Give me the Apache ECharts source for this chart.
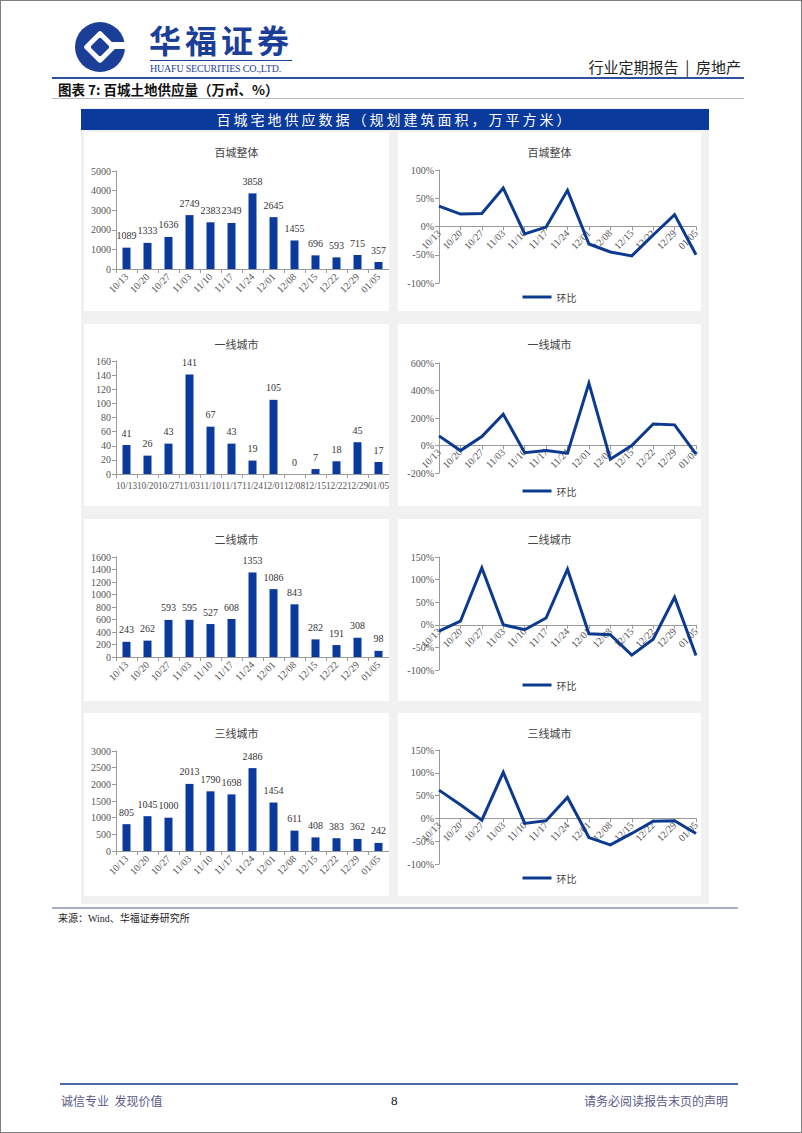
<!DOCTYPE html>
<html>
<head>
<meta charset="utf-8">
<script src="https://cdn.jsdelivr.net/npm/echarts/dist/echarts.min.js"></script>
<style>
  html, body { margin: 0; padding: 0; background: #fff; }
  #page { position: relative; width: 802px; height: 1133px; box-sizing: border-box; border: 1px solid #7f7f7f; overflow: hidden; font-family: 'Noto Sans CJK SC', sans-serif; }
  .abs { position: absolute; }
  .panel { position: absolute; background: #fff; overflow: hidden; }
  .chart { position: absolute; left: 0; top: 0; width: 100%; height: 100%; }
</style>
</head>
<body>
<div id="page">
  <!-- logo -->
  <svg class="abs" style="left:68px;top:19px" width="62" height="54" viewBox="0 0 62 54">
    <circle cx="31" cy="27" r="25" fill="#1b3f98"/>
    <rect x="19" y="15" width="24" height="24" rx="3" transform="rotate(45 31 27)" fill="#fff"/>
    <rect x="24" y="20" width="14" height="14" rx="2" transform="rotate(45 31 27)" fill="#1b3f98"/>
    <rect x="41" y="22" width="22" height="7" fill="#fff"/>
  </svg>
  <div class="abs" style="left:148px;top:17px;font-size:32px;font-weight:bold;color:#1b3f98;letter-spacing:4px;line-height:42px;">华福证券</div>
  <div class="abs" style="left:149px;top:59px;width:142px;height:1px;background:#1b3f98;"></div>
  <div class="abs" style="left:149px;top:61px;font-family:'Liberation Serif',serif;font-size:10px;color:#1b3f98;line-height:14px;letter-spacing:-0.2px;">HUAFU SECURITIES CO.,LTD.</div>
  <div class="abs" style="right:60px;top:56px;font-size:15px;color:#222;line-height:20px;">行业定期报告&nbsp;&nbsp;|&nbsp;&nbsp;房地产</div>
  <div class="abs" style="left:51px;top:76px;width:692px;height:2px;background:#2f4f9f;"></div>
  <div class="abs" style="left:57px;top:79px;font-size:13.5px;font-weight:bold;color:#111;line-height:18px;">图表 7:&nbsp;百城土地供应量（万㎡、%）</div>
  <div class="abs" style="left:51px;top:97px;width:692px;height:1px;background:#b8bccb;"></div>

  <!-- frame -->
  <div class="abs" style="left:80px;top:107px;width:628px;height:796px;background:#f1f1f2;"></div>
  <div class="abs" style="left:80px;top:108px;width:628px;height:21px;background:#0a3a9c;color:#fff;font-size:14px;line-height:21px;text-align:center;letter-spacing:3px;">百城宅地供应数据（规划建筑面积，万平方米）</div>

  <div class="panel" style="left:83px;top:131px;width:305px;height:179px;"><div class="chart" id="c1"></div></div>
  <div class="panel" style="left:397px;top:131px;width:303px;height:179px;"><div class="chart" id="c2"></div></div>
  <div class="panel" style="left:83px;top:323px;width:305px;height:182px;"><div class="chart" id="c3"></div></div>
  <div class="panel" style="left:397px;top:323px;width:303px;height:182px;"><div class="chart" id="c4"></div></div>
  <div class="panel" style="left:83px;top:518px;width:305px;height:182px;"><div class="chart" id="c5"></div></div>
  <div class="panel" style="left:397px;top:518px;width:303px;height:182px;"><div class="chart" id="c6"></div></div>
  <div class="panel" style="left:83px;top:712px;width:305px;height:183px;"><div class="chart" id="c7"></div></div>
  <div class="panel" style="left:397px;top:712px;width:303px;height:183px;"><div class="chart" id="c8"></div></div>

  <div class="abs" style="left:51px;top:906px;width:686px;height:2px;background:#a9adc6;"></div>
  <div class="abs" style="left:57px;top:909px;font-size:10px;color:#222;line-height:16px;">来源：<span style="font-family:'Liberation Serif',serif;">Wind</span>、华福证券研究所</div>

  <div class="abs" style="left:59px;top:1082px;width:678px;height:2px;background:#4a6aa8;"></div>
  <div class="abs" style="left:60px;top:1091px;font-size:12px;color:#5a5a8a;line-height:18px;">诚信专业&nbsp;&nbsp;发现价值</div>
  <div class="abs" style="left:390px;top:1091px;font-size:13px;color:#111;line-height:18px;font-family:'Liberation Serif',serif;">8</div>
  <div class="abs" style="right:73px;top:1091px;font-size:12px;color:#5a5a8a;line-height:18px;">请务必阅读报告末页的声明</div>
</div>

<script>
// ---------- data ----------
const categories = ['10/13','10/20','10/27','11/03','11/10','11/17','11/24','12/01','12/08','12/15','12/22','12/29','01/05'];

const totalSupply = [1089, 1333, 1636, 2749, 2383, 2349, 3858, 2645, 1455, 696, 593, 715, 357];
const totalMoM    = [36, 22, 23, 68, -13, -1, 64, -31, -45, -52, -15, 21, -50];

const tier1Supply = [41, 26, 43, 141, 67, 43, 19, 105, 0, 7, 18, 45, 17];
const tier1MoM    = [70, -37, 65, 228, -52, -36, -56, 453, -100, 0, 157, 150, -62];

const tier2Supply = [243, 262, 593, 595, 527, 608, 1353, 1086, 843, 282, 191, 308, 98];
const tier2MoM    = [-14, 8, 126, 0, -11, 15, 123, -20, -22, -67, -32, 61, -68];

const tier3Supply = [805, 1045, 1000, 2013, 1790, 1698, 2486, 1454, 611, 408, 383, 362, 242];
const tier3MoM    = [62, 30, -4, 101, -11, -5, 46, -42, -58, -33, -6, -5, -33];

// axis ranges [min, max, interval]
const totalBarAxis = [0, 5000, 1000];
const tier1BarAxis = [0, 160, 20];
const tier2BarAxis = [0, 1600, 200];
const tier3BarAxis = [0, 3000, 500];
const totalLineAxis = [-100, 100, 50];
const tier1LineAxis = [-200, 600, 200];
const tier2LineAxis = [-100, 150, 50];
const tier3LineAxis = [-100, 150, 50];

const titles = ['百城整体', '一线城市', '二线城市', '三线城市'];
const seriesName = '环比';

// ---------- styles ----------
const NUM_FONT = "'Liberation Serif','Noto Sans CJK SC',serif";
const CJK_FONT = "'Noto Sans CJK SC',sans-serif";
const BAR_COLOR = '#0a3a9e';
const LINE_COLOR = '#0c3a8f';
const AXIS_COLOR = '#9a9a9a';
const LABEL_COLOR = '#555';

function titleCfg(text) {
  return { text, left: 'center', top: 9,
    textStyle: { fontSize: 11, fontWeight: 'normal', color: '#444', fontFamily: CJK_FONT } };
}

function barOption(title, data, axis, g) {
  return {
    animation: false,
    title: titleCfg(title),
    grid: { left: 32, right: 0, top: g.top, height: g.height, containLabel: false, outerBoundsMode: 'none' },
    xAxis: {
      type: 'category', data: categories,
      axisLine: { lineStyle: { color: AXIS_COLOR } },
      axisTick: { show: true, length: 4, lineStyle: { color: AXIS_COLOR } },
      axisLabel: { interval: 0, rotate: g.rotate, fontSize: g.labelSize, color: LABEL_COLOR, fontFamily: NUM_FONT, margin: g.margin }
    },
    yAxis: {
      type: 'value', min: axis[0], max: axis[1], interval: axis[2],
      axisLine: { show: true, lineStyle: { color: AXIS_COLOR } },
      axisTick: { show: true, length: 4, lineStyle: { color: AXIS_COLOR } },
      splitLine: { show: false },
      axisLabel: { fontSize: 10, color: LABEL_COLOR, fontFamily: NUM_FONT, margin: 5, formatter: v => String(v) }
    },
    series: [{
      type: 'bar', data, barWidth: 8, itemStyle: { color: BAR_COLOR },
      label: { show: true, position: 'top', distance: 7, fontSize: 10, color: '#333', fontFamily: NUM_FONT }
    }]
  };
}

function lineOption(title, data, axis, g) {
  // place the category axis at the 0% level of the value axis
  const zeroOffset = -g.height * (0 - axis[0]) / (axis[1] - axis[0]);
  return {
    animation: false,
    title: titleCfg(title),
    grid: { left: 41, right: 5, top: g.top, height: g.height, containLabel: false, outerBoundsMode: 'none' },
    legend: {
      data: [seriesName], left: 'center', top: g.legend - 7, icon: 'rect', itemWidth: 29, itemHeight: 3, itemGap: 6,
      textStyle: { fontSize: 10, color: '#444', fontFamily: CJK_FONT }
    },
    xAxis: {
      type: 'category', data: categories, boundaryGap: false, position: 'bottom', offset: zeroOffset,
      axisLine: { onZero: false, lineStyle: { color: AXIS_COLOR } },
      axisTick: { show: true, length: 4, lineStyle: { color: AXIS_COLOR } },
      axisLabel: { interval: 0, rotate: 45, fontSize: 10, color: LABEL_COLOR, fontFamily: NUM_FONT, margin: 5 }
    },
    yAxis: {
      type: 'value', min: axis[0], max: axis[1], interval: axis[2],
      axisLine: { show: true, lineStyle: { color: AXIS_COLOR } },
      axisTick: { show: true, length: 4, lineStyle: { color: AXIS_COLOR } },
      splitLine: { show: false },
      axisLabel: { fontSize: 10, color: LABEL_COLOR, fontFamily: NUM_FONT, margin: 5, formatter: '{value}%' }
    },
    series: [{
      type: 'line', name: seriesName, data, symbol: 'none', showSymbol: false,
      lineStyle: { width: 3, color: LINE_COLOR, join: 'miter' }, itemStyle: { color: LINE_COLOR }
    }]
  };
}

function mk(id, opt) {
  const c = echarts.init(document.getElementById(id), null, { renderer: 'svg' });
  c.setOption(opt);
}

mk('c1', barOption(titles[0], totalSupply, totalBarAxis, { top: 39, height: 98, rotate: 45, labelSize: 10, margin: 6 }));
mk('c2', lineOption(titles[0], totalMoM, totalLineAxis, { top: 38, height: 113, legend: 162 }));
mk('c3', barOption(titles[1], tier1Supply, tier1BarAxis, { top: 37, height: 113, rotate: 0, labelSize: 9.3, margin: 7 }));
mk('c4', lineOption(titles[1], tier1MoM, tier1LineAxis, { top: 39, height: 110, legend: 164 }));
mk('c5', barOption(titles[2], tier2Supply, tier2BarAxis, { top: 38, height: 100, rotate: 45, labelSize: 10, margin: 6 }));
mk('c6', lineOption(titles[2], tier2MoM, tier2LineAxis, { top: 38, height: 113, legend: 163 }));
mk('c7', barOption(titles[3], tier3Supply, tier3BarAxis, { top: 38, height: 100, rotate: 45, labelSize: 10, margin: 6 }));
mk('c8', lineOption(titles[3], tier3MoM, tier3LineAxis, { top: 37, height: 114, legend: 162 }));
</script>
</body>
</html>
